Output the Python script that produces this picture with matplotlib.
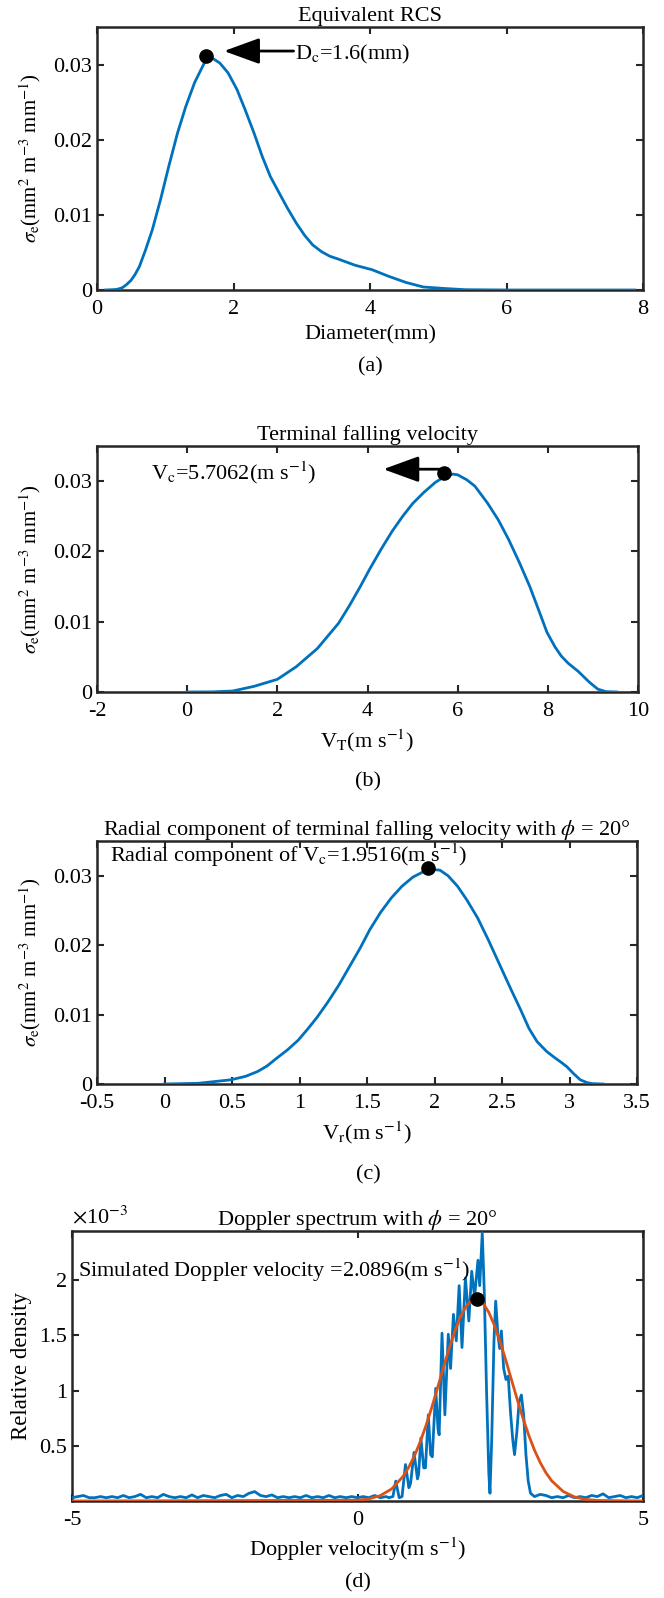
import numpy as np
import matplotlib
matplotlib.use('Agg')
import matplotlib.pyplot as plt
from matplotlib.ticker import FuncFormatter

plt.rcParams['font.family'] = ['Liberation Serif', 'DejaVu Serif']
plt.rcParams['mathtext.fontset'] = 'stix'
plt.rcParams['axes.unicode_minus'] = False
plt.rcParams['font.size'] = 16

BLUE = '#0072BD'
ORANGE = '#D95319'
DARK = '#262626'
FS = 16

# (a) equivalent RCS vs diameter
diam = [0.12, 0.25, 0.30, 0.37, 0.43, 0.50, 0.56, 0.62, 0.71, 0.81, 0.93, 1.05, 1.18,
        1.30, 1.43, 1.55, 1.61, 1.70, 1.80, 1.92, 2.05, 2.17, 2.30, 2.42, 2.54, 2.67,
        2.79, 2.92, 3.04, 3.16, 3.29, 3.41, 3.54, 3.78, 4.03, 4.28, 4.53, 4.78, 5.09,
        5.40, 6.02, 7.88]
rcs = [0.0, 0.00005, 0.0001, 0.0003, 0.0007, 0.0013, 0.0021, 0.0031, 0.0053, 0.0080,
       0.0120, 0.0164, 0.0209, 0.0244, 0.0276, 0.0298, 0.0309, 0.0308, 0.0302, 0.0289,
       0.0267, 0.0240, 0.0209, 0.0178, 0.0151, 0.0129, 0.0109, 0.0089, 0.0073, 0.0060,
       0.0051, 0.0045, 0.0041, 0.0033, 0.0027, 0.0018, 0.0010, 0.0004, 0.0002, 0.00004,
       0.0, 0.0]
d_c = 1.6
rcs_peak = 0.0311

# (b) terminal falling velocity
vt = [0.0, 0.57, 1.01, 1.48, 2.0, 2.42, 2.89, 3.36, 3.6, 3.84, 4.05, 4.31, 4.55, 4.78,
      5.0, 5.25, 5.5, 5.72, 5.9, 6.0, 6.2, 6.38, 6.66, 6.9, 7.13, 7.37, 7.6, 7.8, 7.98,
      8.16, 8.3, 8.45, 8.68, 8.92, 9.11, 9.29, 9.53]
rcs_vt = [0.0, 0.00002, 0.00014, 0.0008, 0.0018, 0.0036, 0.0062, 0.0098, 0.0123, 0.0150,
          0.0175, 0.0204, 0.0229, 0.0250, 0.0268, 0.0284, 0.0298, 0.0307, 0.0310, 0.0309,
          0.0302, 0.0293, 0.0269, 0.0245, 0.0217, 0.0184, 0.0150, 0.0116, 0.0085, 0.0064,
          0.0051, 0.0041, 0.0029, 0.0014, 0.0004, 0.00005, 0.0]
v_c = 5.7062

# (c) radial component, phi = 20 deg
vr = [0.0, 0.25, 0.49, 0.60, 0.69, 0.76, 0.83, 0.91, 0.99, 1.06, 1.13, 1.21, 1.29, 1.37,
      1.45, 1.52, 1.60, 1.68, 1.76, 1.84, 1.92, 1.98, 2.04, 2.10, 2.17, 2.24, 2.32, 2.40,
      2.48, 2.56, 2.64, 2.70, 2.76, 2.83, 2.89, 2.94, 2.98, 3.03, 3.08, 3.13, 3.17, 3.25]
rcs_vr = [0.0, 0.0001, 0.0006, 0.0011, 0.0018, 0.0026, 0.0037, 0.0049, 0.0063, 0.0079,
          0.0096, 0.0118, 0.0142, 0.0169, 0.0196, 0.0222, 0.0247, 0.0268, 0.0285, 0.0298,
          0.0306, 0.0309, 0.0308, 0.0300, 0.0285, 0.0265, 0.0239, 0.0207, 0.0173, 0.0139,
          0.0106, 0.0080, 0.0061, 0.0047, 0.0038, 0.0031, 0.0025, 0.0015, 0.0006, 0.0002,
          0.00005, 0.0]
vr_c = 1.9516

# (d) Doppler spectrum (densities in units of 1e-3)
noise_left_x = np.round(np.arange(-5.0, 0.51, 0.1), 2)
noise_left_y = [0.03, 0.04, 0.05, 0.03, 0.03, 0.04, 0.03, 0.04, 0.03, 0.05, 0.03, 0.04,
                0.06, 0.03, 0.04, 0.03, 0.06, 0.04, 0.03, 0.04, 0.03, 0.055, 0.03, 0.05,
                0.04, 0.03, 0.05, 0.06, 0.03, 0.05, 0.04, 0.07, 0.085, 0.05, 0.04, 0.055,
                0.03, 0.04, 0.03, 0.04, 0.03, 0.05, 0.03, 0.04, 0.03, 0.05, 0.03, 0.04,
                0.03, 0.04, 0.03, 0.04, 0.03, 0.05, 0.03, 0.04]
core_x = [0.55, 0.62, 0.67, 0.73, 0.78, 0.84, 0.90, 0.93, 0.99, 1.05, 1.07, 1.11, 1.16,
          1.19, 1.24, 1.28, 1.31, 1.37, 1.41, 1.43, 1.48, 1.53, 1.59, 1.63, 1.68, 1.73,
          1.78, 1.83, 1.89, 1.95, 2.00, 2.05, 2.11, 2.14, 2.185, 2.22, 2.26, 2.30, 2.32,
          2.35, 2.39, 2.42, 2.46, 2.49, 2.52, 2.56, 2.60, 2.64, 2.68, 2.72, 2.75, 2.79,
          2.83, 2.87, 2.91, 2.95, 2.99, 3.03]
core_y = [0.03, 0.04, 0.18, 0.03, 0.04, 0.33, 0.12, 0.16, 0.44, 0.20, 0.24, 0.57, 0.30,
          0.30, 0.78, 0.42, 0.40, 1.02, 0.65, 0.60, 1.52, 0.78, 1.51, 1.20, 1.69, 1.45,
          1.95, 1.39, 2.02, 1.63, 2.08, 1.85, 2.18, 1.95, 2.43, 1.90, 1.00, 0.25, 0.07,
          0.55, 1.45, 1.81, 1.50, 1.38, 1.54, 1.20, 1.10, 1.13, 0.80, 0.55, 0.42, 0.62,
          0.90, 0.96, 0.78, 0.42, 0.18, 0.07]
noise_right_x = np.round(np.arange(3.1, 5.01, 0.1), 2)
noise_right_y = [0.04, 0.06, 0.05, 0.03, 0.04, 0.03, 0.05, 0.03, 0.04, 0.03, 0.05, 0.04,
                 0.065, 0.03, 0.04, 0.05, 0.03, 0.04, 0.03, 0.05]
dop_x = np.concatenate([noise_left_x, core_x, noise_right_x])
dop_y = np.concatenate([noise_left_y, core_y, noise_right_y])

fit_x = [-5.0, 0.0, 0.2, 0.4, 0.6, 0.8, 0.9, 1.0, 1.1, 1.2, 1.3, 1.4, 1.5, 1.6, 1.7, 1.8,
         1.9, 2.0, 2.07, 2.1, 2.2, 2.3, 2.4, 2.5, 2.6, 2.7, 2.8, 2.9, 3.0, 3.1, 3.2, 3.3,
         3.4, 3.6, 3.8, 4.0, 4.2, 5.0]
fit_y = [0.0, 0.007, 0.019, 0.049, 0.110, 0.224, 0.308, 0.413, 0.538, 0.684, 0.846,
         1.021, 1.199, 1.373, 1.532, 1.665, 1.762, 1.818, 1.83, 1.828, 1.790, 1.708,
         1.588, 1.439, 1.270, 1.092, 0.915, 0.747, 0.594, 0.460, 0.348, 0.256, 0.183,
         0.087, 0.037, 0.014, 0.005, 0.0]
v_dop = 2.0896
dop_peak = 1.83

W, H = 664, 1598
fig = plt.figure(figsize=(W / 100, H / 100), dpi=100)


def box(l, r, t, b):
    return [l / W, 1 - b / H, (r - l) / W, (b - t) / H]


def style(ax):
    ax.tick_params(direction='in', top=True, right=True, length=5, width=1.5,
                   labelsize=FS, color=DARK)
    ax.tick_params(axis='x', pad=7.5)
    ax.tick_params(axis='y', pad=3.5)
    for s in ax.spines.values():
        s.set_linewidth(1.8)
        s.set_color(DARK)
    ax.xaxis.set_major_formatter(FuncFormatter(lambda v, p: '%g' % v))
    ax.yaxis.set_major_formatter(FuncFormatter(lambda v, p: '%g' % v))


ylab = r'$\sigma_{\mathrm{e}}$(mm$^2$ m$^{-3}$ mm$^{-1}$)'
arrow = dict(arrowstyle='-|>,head_length=1.1,head_width=0.4', color='black',
             lw=2, mutation_scale=20, shrinkA=0, shrinkB=0)

# panel a
ax = fig.add_axes(box(97, 643, 27, 290))
ax.plot(diam, rcs, color=BLUE, lw=2, zorder=3)
ax.plot(d_c, rcs_peak, 'o', color='black', ms=9.5, zorder=4)
ax.annotate('', xy=(1.86, 0.0318), xytext=(2.88, 0.0318), arrowprops=arrow)
ax.text(2.9, 0.0307, r'D$_{\mathrm{c}}$=1.6(mm)', va='baseline')
ax.set_xlim(0, 8)
ax.set_ylim(0, 0.035)
ax.set_xticks([0, 2, 4, 6, 8])
ax.set_yticks([0, 0.01, 0.02, 0.03])
ax.set_title('Equivalent RCS', pad=4, fontsize=FS)
ax.set_xlabel('Diameter(mm)', labelpad=4)
ax.set_ylabel(ylab, labelpad=7, fontsize=15)
style(ax)
fig.text(370 / W, 1 - 367 / H, '(a)', ha='center', va='center')

# panel b
ax = fig.add_axes(box(97, 638, 446, 692))
ax.plot(vt, rcs_vt, color=BLUE, lw=2, zorder=3)
ax.plot(v_c, 0.0311, 'o', color='black', ms=9.5, zorder=4)
ax.annotate('', xy=(4.35, 0.0317), xytext=(5.6, 0.0317), arrowprops=arrow)
ax.text(-0.8, 0.0303, r'V$_{\mathrm{c}}$=5.7062(m s$^{\mathrm{-1}}$)', va='baseline')
ax.set_xlim(-2, 10)
ax.set_ylim(0, 0.035)
ax.set_xticks(range(-2, 11, 2))
ax.set_yticks([0, 0.01, 0.02, 0.03])
ax.set_title('Terminal falling velocity', pad=4, fontsize=FS)
ax.set_xlabel(r'V$_{\mathrm{T}}$(m s$^{\mathrm{-1}}$)', labelpad=4)
ax.set_ylabel(ylab, labelpad=7, fontsize=15)
style(ax)
fig.text(368 / W, 1 - 782 / H, '(b)', ha='center', va='center')

# panel c
ax = fig.add_axes(box(97, 637, 841, 1084))
ax.plot(vr, rcs_vr, color=BLUE, lw=2, zorder=3)
ax.plot(vr_c, 0.0311, 'o', color='black', ms=9.5, zorder=4)
ax.text(-0.4, 0.0320, r'Radial component of V$_{\mathrm{c}}$=1.9516(m s$^{\mathrm{-1}}$)',
        va='baseline', zorder=5)
ax.set_xlim(-0.5, 3.5)
ax.set_ylim(0, 0.035)
ax.set_xticks(np.arange(-0.5, 3.6, 0.5))
ax.set_yticks([0, 0.01, 0.02, 0.03])
ax.set_title(r'Radial component of terminal falling velocity with $\phi$ = 20°',
             pad=4, fontsize=FS)
ax.set_xlabel(r'V$_{\mathrm{r}}$(m s$^{\mathrm{-1}}$)', labelpad=4)
ax.set_ylabel(ylab, labelpad=7, fontsize=15)
style(ax)
fig.text(368 / W, 1 - 1175 / H, '(c)', ha='center', va='center')

# panel d
ax = fig.add_axes(box(72, 643, 1231, 1501))
ax.plot(dop_x, dop_y, color=BLUE, lw=2, zorder=3)
ax.plot(fit_x, fit_y, color=ORANGE, lw=2, zorder=3)
ax.plot(v_dop, dop_peak, 'o', color='black', ms=9.5, zorder=4)
ax.text(-4.89, 2.024, r'Simulated Doppler velocity =2.0896(m s$^{\mathrm{-1}}$)',
        va='baseline', zorder=5)
ax.set_xlim(-5, 5)
ax.set_ylim(0, 2.445)
ax.set_xticks([-5, 0, 5])
ax.set_yticks([0.5, 1, 1.5, 2])
ax.set_title(r'Doppler spectrum with $\phi$ = 20°', pad=4, fontsize=FS)
ax.set_xlabel(r'Doppler velocity(m s$^{\mathrm{-1}}$)', labelpad=4)
ax.set_ylabel('Relative density', labelpad=5, fontsize=16.5)
style(ax)
ax.text(0.0, 1.01, r'$\times$10$^{\mathrm{-3}}$', transform=ax.transAxes,
        ha='left', va='bottom')
fig.text(358 / W, 1 - 1583 / H, '(d)', ha='center', va='center')

fig.savefig('out.png', dpi=100)
